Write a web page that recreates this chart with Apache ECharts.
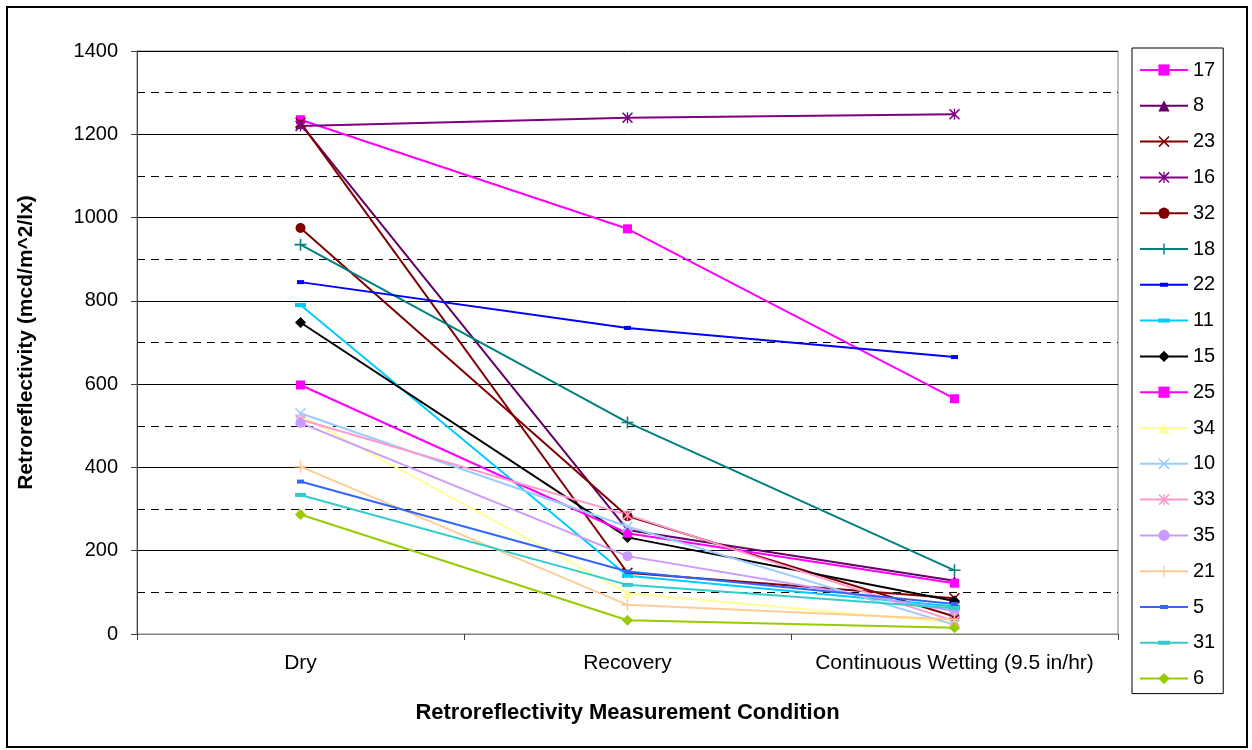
<!DOCTYPE html>
<html lang="en">
<head>
    <meta charset="UTF-8">
    <title>Retroreflectivity</title>
    <script src="https://cdn.jsdelivr.net/npm/echarts@6/dist/echarts.min.js"></script>
</head>
<style>
html,body{margin:0;padding:0;background-color:#fff}
#chartBox{width:1252px;height:750px}
</style>
<body>
    <div id="chartBox"></div>
</body>
<script>
// data
const conditions = ['Dry', 'Recovery', 'Continuous Wetting (9.5 in/hr)'];
const sampleNames = ['17', '8', '23', '16', '32', '18', '22', '11', '15', '25', '34', '10', '33', '35', '21', '5', '31', '6'];
const dryValues      = [1235, 1225, 1228, 1220, 975, 935, 845, 790, 748, 598, 525, 530, 515, 507, 402, 366, 334, 287];
const recoveryValues = [973, 250, 147, 1240, 283, 508, 735, 140, 232, 242, 98, 258, 286, 187, 70, 150, 118, 33];
const wettingValues  = [565, 128, 86, 1248, 42, 153, 665, 66, 79, 122, 27, 22, 31, 55, 35, 72, 62, 15];
const yTicks = [0, 200, 400, 600, 800, 1000, 1200, 1400];

const COLORS = ['#FF00FF', '#660066', '#800000', '#800080', '#800000', '#008080', '#0000FF', '#00CCFF', '#000000',
                '#FF00FF', '#FFFF99', '#99CCFF', '#FF99CC', '#CC99FF', '#FFCC99', '#3366FF', '#33CCCC', '#99CC00'];

// Excel-like markers
const X_PATH = 'path://M0,1L1,0L5,4L9,0L10,1L6,5L10,9L9,10L5,6L1,10L0,9L4,5Z';
const STAR_PATH = 'path://M0,1L1,0L5,4L9,0L10,1L6,5L10,9L9,10L5,6L1,10L0,9L4,5Z M4.4,0H5.6V10H4.4Z';
const PLUS_PATH = 'path://M4.35,0H5.65V4.35H10V5.65H5.65V10H4.35V5.65H0V4.35H4.35Z';
// legend icons for the dash markers: line + small bar
const SHORT_DASH_ICON = 'path://M0,5H48V7H0Z M20,4H28V8H20Z';
const LONG_DASH_ICON = 'path://M0,5H48V7H0Z M18,4H30V8H18Z';
const MARKERS = [
    {symbol: 'rect', size: 9},
    {symbol: 'triangle', size: 10},
    {symbol: X_PATH, size: 11},
    {symbol: STAR_PATH, size: 11},
    {symbol: 'circle', size: 10},
    {symbol: PLUS_PATH, size: 12},
    {symbol: 'rect', size: [7, 4], icon: SHORT_DASH_ICON},
    {symbol: 'rect', size: [11, 4], icon: LONG_DASH_ICON},
    {symbol: 'diamond', size: 11}
];

const FONT = 'Liberation Sans, Arial, sans-serif';

function generateChartOption(){
    let series = sampleNames.map((name, i) => {
        let mk = MARKERS[i % MARKERS.length];
        return {
            type: 'line',
            name: name,
            symbol: mk.symbol,
            symbolSize: mk.size,
            symbolKeepAspect: false,
            showAllSymbol: true,
            lineStyle: {width: 2, color: COLORS[i]},
            itemStyle: {color: COLORS[i], opacity: 1},
            emphasis: {disabled: true},
            data: [dryValues[i], recoveryValues[i], wettingValues[i]]
        };
    });
    let legendData = sampleNames.map((name, i) => {
        let mk = MARKERS[i % MARKERS.length];
        return mk.icon ? {name: name, icon: mk.icon} : {name: name};
    });
    return {
        color: COLORS,
        animation: false,
        backgroundColor: '#fff',
        textStyle: {fontFamily: FONT},
        grid: {
            left: 137,
            right: 134,
            top: 51,
            bottom: 116,
            show: true,
            borderColor: '#808080',
            borderWidth: 1
        },
        xAxis: {
            type: 'category',
            data: conditions,
            boundaryGap: true,
            name: 'Retroreflectivity Measurement Condition',
            nameLocation: 'middle',
            nameGap: 68,
            nameTextStyle: {fontSize: 22, fontWeight: 'bold', color: '#000', fontFamily: FONT},
            axisLine: {lineStyle: {color: '#808080', width: 1}},
            axisTick: {show: true, interval: 0, length: 6, lineStyle: {color: '#404040'}},
            axisLabel: {fontSize: 21, color: '#000', margin: 19, interval: 0, fontFamily: FONT},
            splitLine: {show: false}
        },
        yAxis: {
            type: 'value',
            min: yTicks[0],
            max: yTicks[yTicks.length - 1],
            interval: 200,
            name: 'Retroreflectivity (mcd/m^2/lx)',
            nameLocation: 'middle',
            nameGap: 100,
            nameTextStyle: {fontSize: 21, fontWeight: 'bold', color: '#000', fontFamily: FONT},
            axisLine: {show: true, lineStyle: {color: '#404040', width: 1}},
            axisTick: {show: true, length: 6, lineStyle: {color: '#404040'}},
            axisLabel: {fontSize: 20, color: '#000', margin: 19, fontFamily: FONT,
                        formatter: v => String(v)},
            splitLine: {show: true, lineStyle: {color: '#000', width: 1}},
            minorTick: {show: false, splitNumber: 2},
            minorSplitLine: {show: true, lineStyle: {color: '#000', width: 1, type: [8, 6]}}
        },
        legend: {
            orient: 'vertical',
            left: 1132,
            top: 48,
            padding: [12, 8, 5, 7],
            borderColor: '#000',
            borderWidth: 1,
            backgroundColor: '#fff',
            itemWidth: 48,
            itemHeight: 14,
            itemGap: 15.8,
            textStyle: {fontSize: 20, color: '#000', lineHeight: 20, fontFamily: FONT},
            data: legendData,
            selectedMode: false
        },
        graphic: [{
            type: 'rect',
            shape: {x: 7, y: 7, width: 1240, height: 740},
            style: {fill: 'none', stroke: '#000', lineWidth: 2},
            silent: true,
            z: -1
        }],
        series: series
    };
}

let chartObj = echarts.init(document.getElementById('chartBox'));
chartObj.setOption(generateChartOption());
</script>
</html>
